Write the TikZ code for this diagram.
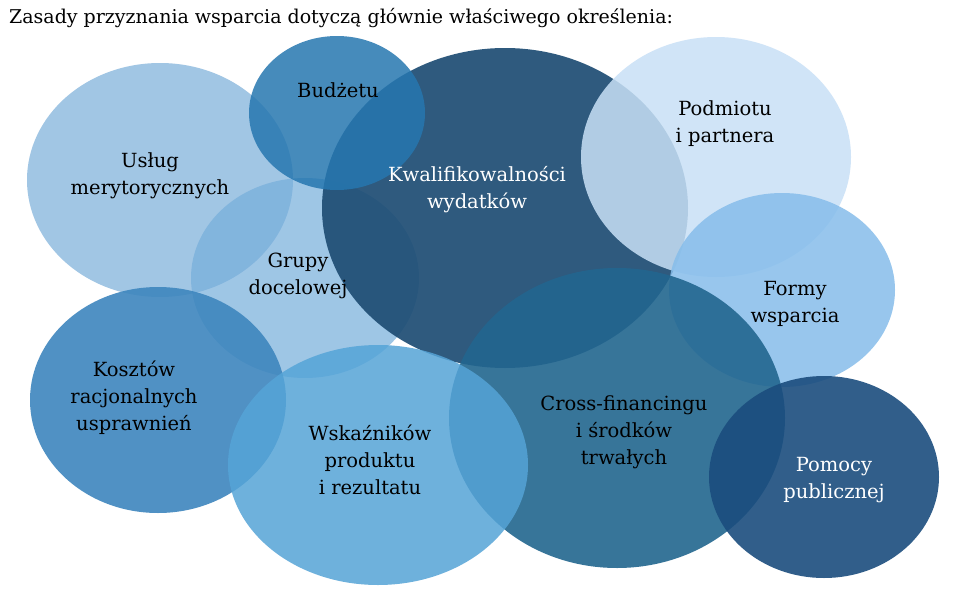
\documentclass[tikz,border=0pt]{standalone}
\usepackage{fontspec}
\setmainfont{DejaVu Serif}
\begin{document}
\begin{tikzpicture}[x=1pt,y=-1pt]
\useasboundingbox[fill=white] (0,0) rectangle (959,597);
\node[anchor=west,font=\fontsize{19}{20}\selectfont,inner sep=0pt] (title) at (9,18) {Zasady przyznania wsparcia dotyczą głównie właściwego określenia:};
\definecolor{cUs}{HTML}{9DC3E3}
\definecolor{cBu}{HTML}{2677B0}
\definecolor{cKw}{HTML}{1E4D74}
\definecolor{cPo}{HTML}{C8E0F6}
\definecolor{cGr}{HTML}{76AEDB}
\definecolor{cFo}{HTML}{86BDEB}
\definecolor{cKo}{HTML}{3E86BE}
\definecolor{cWs}{HTML}{55A4D7}
\definecolor{cCr}{HTML}{22668F}
\definecolor{cPm}{HTML}{1B4D7E}
\fill[cUs,opacity=0.95] (160,180) ellipse [x radius=133, y radius=117];
\fill[cGr,opacity=0.7] (305,278) ellipse [x radius=114, y radius=100];
\fill[cKw,opacity=0.92] (505,208) ellipse [x radius=183, y radius=160];
\fill[cBu,opacity=0.85] (337,113) ellipse [x radius=88, y radius=77];
\fill[cPo,opacity=0.85] (716,157) ellipse [x radius=135, y radius=120];
\fill[cFo,opacity=0.85] (782,290) ellipse [x radius=113, y radius=97];
\fill[cKo,opacity=0.9] (158,400) ellipse [x radius=128, y radius=113];
\fill[cCr,opacity=0.9] (617,418) ellipse [x radius=168, y radius=150];
\fill[cWs,opacity=0.85] (378,465) ellipse [x radius=150, y radius=120];
\fill[cPm,opacity=0.9] (824,477) ellipse [x radius=115, y radius=101];
\tikzset{lab/.style={align=center, font=\fontsize{19.5}{27}\selectfont}}
\node[lab] (us) at (150,176) {Usług\\merytorycznych};
\node[lab] (bu) at (338,90) {Budżetu};
\node[lab] (gr) at (298,276) {Grupy\\docelowej};
\node[lab,text=white] (kw) at (477,190) {Kwalifikowalności\\wydatków};
\node[lab] (po) at (725,124) {Podmiotu\\i partnera};
\node[lab] (fo) at (795,304) {Formy\\wsparcia};
\node[lab] (ko) at (134,398) {Kosztów\\racjonalnych\\usprawnień};
\node[lab] (ws) at (370,460) {Wskaźników\\produktu\\i rezultatu};
\node[lab] (cr) at (624,432) {Cross-financingu\\i środków\\trwałych};
\node[lab,text=white] (pm) at (834,480) {Pomocy\\publicznej};
\end{tikzpicture}
\end{document}
